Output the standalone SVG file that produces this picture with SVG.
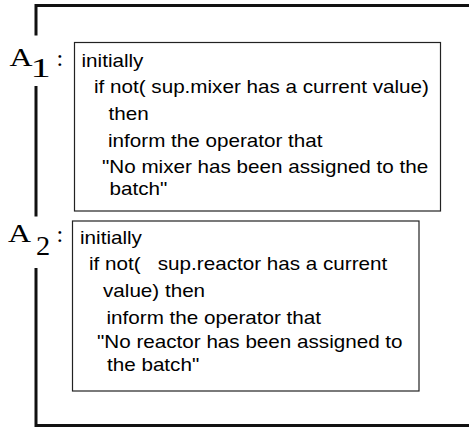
<svg xmlns="http://www.w3.org/2000/svg" width="469" height="429" viewBox="0 0 469 429">
<style>
.bg{fill:#ffffff}
.br{fill:none;stroke:#111;stroke-width:3}
.box{fill:#fff;stroke:#222;stroke-width:1.2}
.t{font-family:"Liberation Sans",Arial,sans-serif;font-size:17.5px;fill:#000;white-space:pre}
.lab{font-family:"Liberation Serif","Times New Roman",serif;fill:#000;font-size:24.5px}
.sub{font-family:"Liberation Serif","Times New Roman",serif;fill:#000;font-size:27px}
.col{font-family:"Liberation Serif","Times New Roman",serif;fill:#000;font-size:24px}
</style>
<rect class="bg" x="0" y="0" width="469" height="429"/>
<g id="connectors">
<path class="br" d="M469 5.5 H36 V35.5 M36 86 V216.5 M36 268 V425.5 H469"/>
</g>
<g id="label-a1">
<text class="lab" transform="translate(9.5,66) scale(1.3,1)">A</text>
<text class="sub" transform="translate(30.5,76.5) scale(1.5,1)">1</text>
<text class="col" x="56.5" y="66">:</text>
</g>
<g id="node-a1">
<rect class="box" x="74.5" y="42.5" width="366" height="168.5"/>
<text class="t" transform="translate(81.5,67) scale(1.18,1)">initially</text>
<text class="t" transform="translate(94,93) scale(1.18,1)">if not( sup.mixer has a current value)</text>
<text class="t" transform="translate(108.5,120) scale(1.18,1)">then</text>
<text class="t" transform="translate(108,147) scale(1.18,1)">inform the operator that</text>
<text class="t" transform="translate(102,172.5) scale(1.18,1)">"No mixer has been assigned to the</text>
<text class="t" transform="translate(109.5,195) scale(1.18,1)">batch"</text>
</g>
<g id="label-a2">
<text class="lab" transform="translate(8,242) scale(1.3,1)">A</text>
<text class="sub" transform="translate(36,255) scale(1.05,1)">2</text>
<text class="col" x="56.5" y="242">:</text>
</g>
<g id="node-a2">
<rect class="box" x="72.5" y="221" width="346.5" height="170"/>
<text class="t" transform="translate(80,244) scale(1.18,1)">initially</text>
<text class="t" transform="translate(89,270) scale(1.18,1)">if not(   sup.reactor has a current</text>
<text class="t" transform="translate(103,297) scale(1.18,1)">value) then</text>
<text class="t" transform="translate(106.5,324) scale(1.18,1)">inform the operator that</text>
<text class="t" transform="translate(97,348) scale(1.18,1)">"No reactor has been assigned to</text>
<text class="t" transform="translate(107,371) scale(1.18,1)">the batch"</text>
</g>
</svg>
